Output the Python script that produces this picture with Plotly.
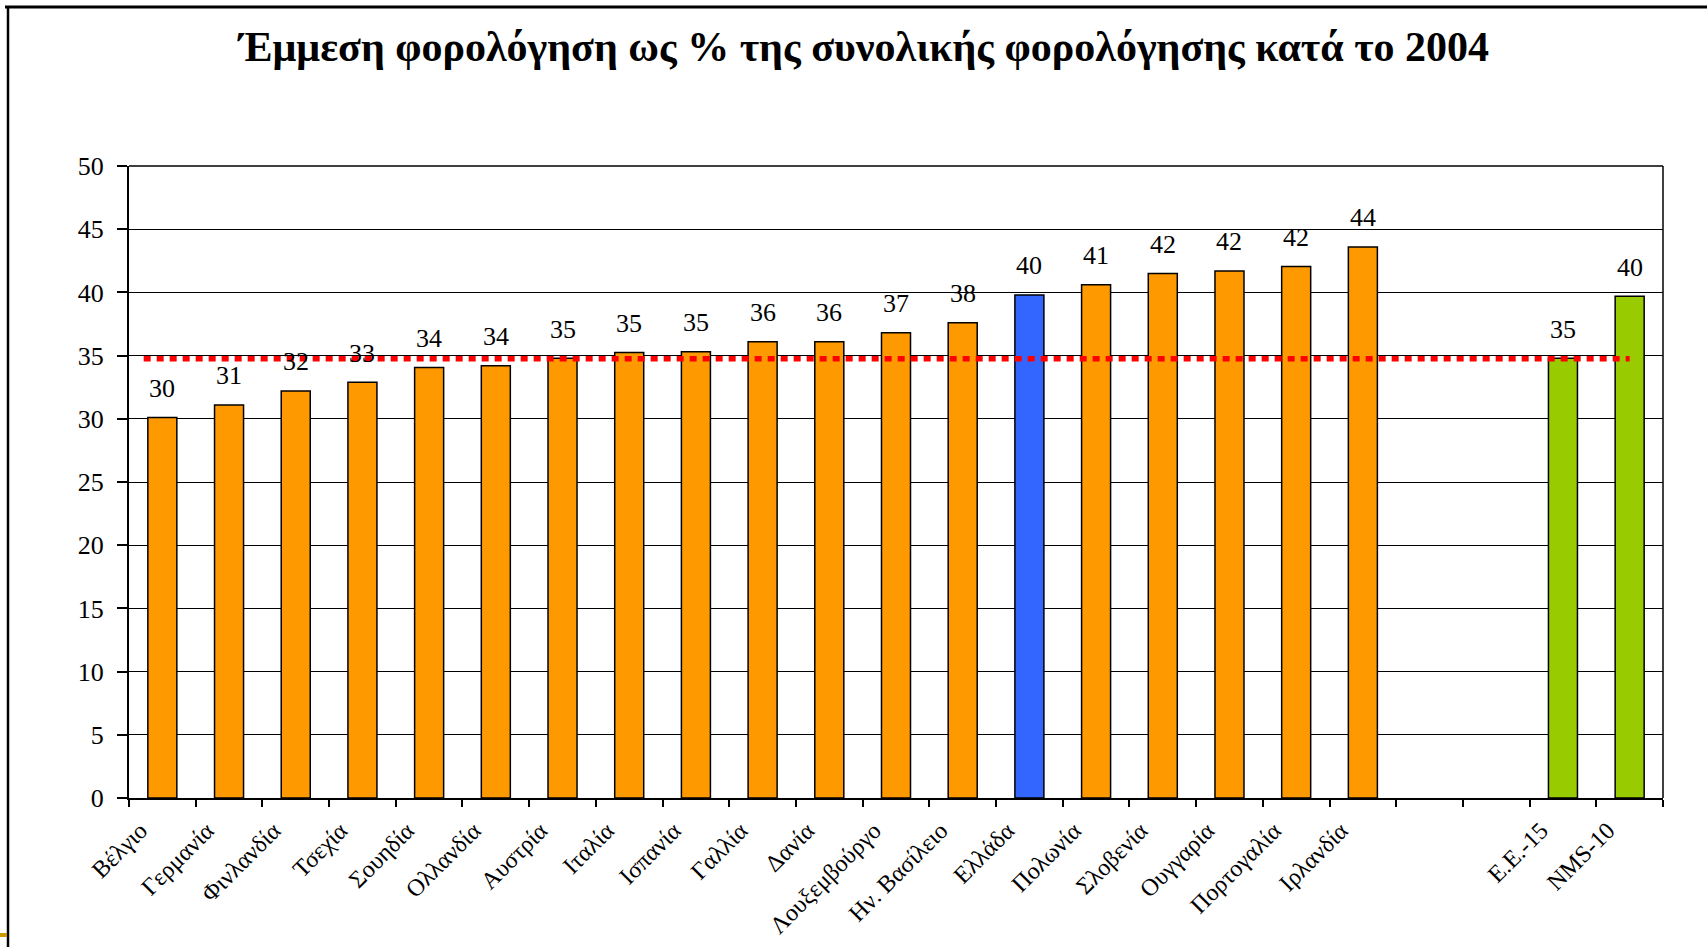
import plotly.graph_objects as go

title_text = "Έμμεση φορολόγηση ως % της συνολικής φορολόγησης κατά το 2004"

categories = ["Βέλγιο", "Γερμανία", "Φινλανδία", "Τσεχία", "Σουηδία", "Ολλανδία",
              "Αυστρία", "Ιταλία", "Ισπανία", "Γαλλία", "Δανία", "Λουξεμβούργο",
              "Ην. Βασίλειο", "Ελλάδα", "Πολωνία", "Σλοβενία", "Ουγγαρία",
              "Πορτογαλία", "Ιρλανδία", " ", "  ", "Ε.Ε.-15", "NMS-10"]
values = [30.1, 31.1, 32.2, 32.9, 34.05, 34.2, 34.8, 35.25, 35.3, 36.1, 36.1, 36.8,
          37.6, 39.8, 40.6, 41.5, 41.7, 42.05, 43.6, None, None, 34.8, 39.7]
labels = ["30", "31", "32", "33", "34", "34", "35", "35", "35", "36", "36", "37",
          "38", "40", "41", "42", "42", "42", "44", "", "", "35", "40"]
groups = ["country"] * 13 + ["greece"] + ["country"] * 5 + ["none", "none", "aggregate", "aggregate"]
group_colors = {"country": "#FF9900", "greece": "#3366FF", "aggregate": "#99CC00", "none": "#FFFFFF"}
eu15_average = 34.75
y_ticks = [0, 5, 10, 15, 20, 25, 30, 35, 40, 45, 50]

FONT = "Liberation Serif"

# layout in pixels
W, H = 1707, 947
ml, mr, mt, mb = 129, 44, 166, 149
pw, ph = W - ml - mr, H - mt - mb

fig = go.Figure()
fig.add_trace(go.Bar(
    x=categories, y=values,
    marker=dict(color=[group_colors[g] for g in groups],
                line=dict(color="black", width=1.5)),
    hoverinfo="x+y", showlegend=False,
))

# data labels
for c, v, t in zip(categories, values, labels):
    if v is None:
        continue
    fig.add_annotation(x=c, y=v, text=t, showarrow=False, yshift=29,
                       font=dict(family=FONT, size=26, color="black"))

# average line (EU-15)
fig.add_shape(type="line", xref="x", yref="y", x0=-0.28, x1=len(categories) - 1,
              y0=eu15_average, y1=eu15_average,
              line=dict(color="#FF0000", width=5.5, dash="7px,6px"), layer="above")

# slide frame decoration
def px_x(p):
    return (p - ml) / pw

def px_y(p):
    return (H - mb - p) / ph

fig.add_shape(type="line", xref="paper", yref="paper", x0=px_x(5), x1=px_x(W), y0=px_y(7), y1=px_y(7),
              line=dict(color="black", width=3))
fig.add_shape(type="line", xref="paper", yref="paper", x0=px_x(8), x1=px_x(8), y0=px_y(7), y1=px_y(H),
              line=dict(color="black", width=2.5))
fig.add_shape(type="line", xref="paper", yref="paper", x0=px_x(0), x1=px_x(7), y0=px_y(935), y1=px_y(935),
              line=dict(color="#CC9900", width=4))

fig.update_layout(
    width=W, height=H,
    margin=dict(l=ml, r=mr, t=mt, b=mb, autoexpand=False),
    paper_bgcolor="white", plot_bgcolor="white",
    bargap=0.565,
    title=dict(text=title_text, x=864 / W, xanchor="center", y=1 - 46 / H, yanchor="middle",
               yref="container",
               font=dict(family=FONT, size=42, color="black", weight="bold")),
    font=dict(family=FONT, color="black"),
    xaxis=dict(type="category", categoryorder="array", categoryarray=categories,
               tickson="boundaries", ticks="outside", ticklen=7, tickwidth=1.5, tickcolor="black",
               showline=True, linecolor="black", linewidth=2, mirror=False,
               showgrid=False, tickangle=-45, ticklabelshift=-22, ticklabelstandoff=7,
               tickfont=dict(family=FONT, size=24, color="black"), automargin=False,
               range=[-0.5, len(categories) - 0.5]),
    yaxis=dict(range=[0, 50], tickvals=y_ticks, ticks="outside", ticklen=10, tickwidth=1.5,
               tickcolor="black", showline=True, linecolor="black", linewidth=2,
               showgrid=True, gridcolor="black", gridwidth=1.3, zeroline=False,
               tickfont=dict(family=FONT, size=26, color="black"), automargin=False,
               ticklabelstandoff=8),
)

# plot frame (top and right borders)
fig.add_shape(type="line", xref="paper", yref="paper", x0=0, x1=1, y0=1, y1=1,
              line=dict(color="black", width=1.5), layer="below")
fig.add_shape(type="line", xref="paper", yref="paper", x0=1, x1=1, y0=0, y1=1,
              line=dict(color="black", width=1.5), layer="below")

fig.write_html("out.html", config={"displayModeBar": False},
               post_script="document.body.style.margin='0';")
